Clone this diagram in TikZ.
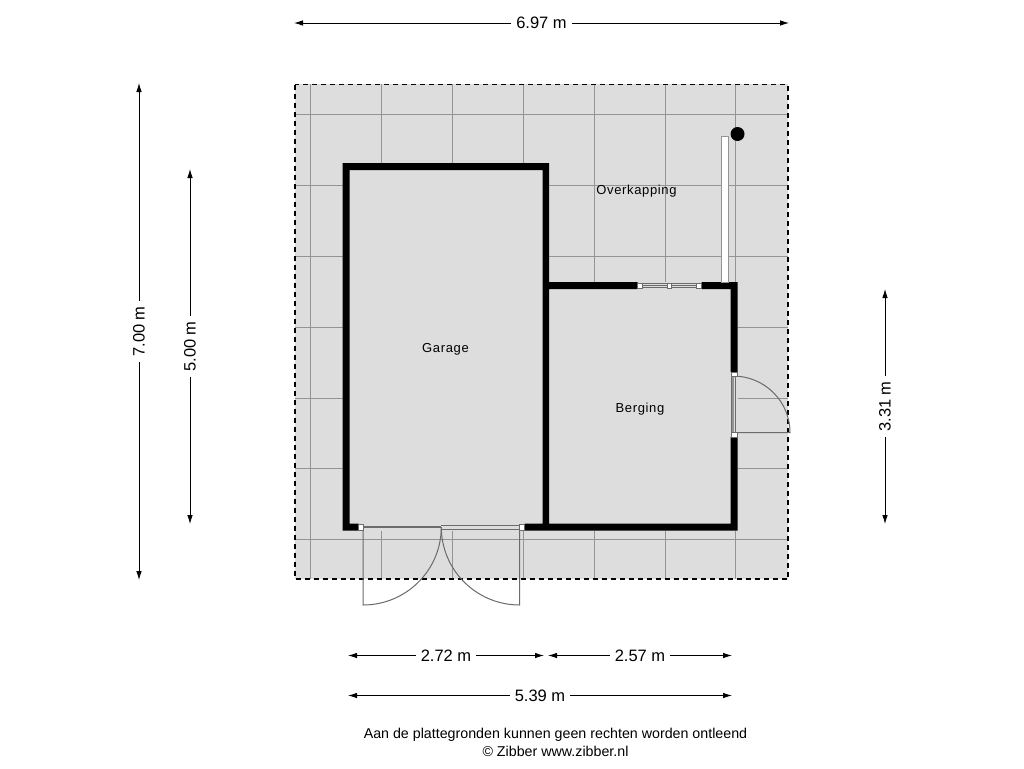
\documentclass[tikz,border=0pt]{standalone}
\usepackage{xcolor}
\usepackage{fontspec}
\setmainfont{Liberation Sans}
\newfontfamily\roomfont[LetterSpace=5]{Liberation Sans}
\usetikzlibrary{arrows.meta}
\definecolor{floorgrey}{gray}{0.865}
\definecolor{tilegrey}{gray}{0.58}
\definecolor{doorgrey}{gray}{0.42}
\tikzset{>={Latex[length=9pt,width=5.5pt]}}
\tikzstyle{dim} = [->, draw=black, line width=0.8pt]
\tikzstyle{dimlabel} = [draw=none, font=\fontsize{16.5}{18}\selectfont, inner sep=5pt]
\tikzstyle{room} = [draw=none, font=\fontsize{13}{15}\selectfont\roomfont, inner sep=0]
\tikzstyle{wall} = [draw=none, fill=black]
\tikzstyle{tile} = [draw=tilegrey, line width=1pt]
\tikzstyle{door} = [draw=doorgrey, line width=1pt]
\tikzstyle{jamb} = [draw=doorgrey, fill=white, line width=0.5pt]

\begin{document}
\begin{tikzpicture}[x=1pt, y=-1pt]
\useasboundingbox (0,0) rectangle (1024,768);
\fill [white] (0,0) rectangle (1024,768);
% overkapping
\fill [floorgrey] (295,84) rectangle (788,579);
\foreach \tx in {310,381,452,523,594,665,735}
  \draw [tile] (\tx,84) -- (\tx,579);
\foreach \ty in {114,185,256,327,398,468,539}
  \draw [tile] (295,\ty) -- (788,\ty);
\draw [black, line width=1.5pt, dash pattern=on 5pt off 4pt] (295,84.5) rectangle (788,579);
% rooms
\fill [floorgrey] (342.5,163) rectangle (549,530.5);
\fill [floorgrey] (549,282) rectangle (737.5,530.5);
% walls
\fill [wall] (342.5,163) -- (549,163) -- (549,282) -- (637.5,282) -- (637.5,289) -- (549,289) -- (549,523.5) -- (730.5,523.5)
  -- (730.5,437) -- (737.5,437) -- (737.5,530.5) -- (524.5,530.5) -- (524.5,523.5) -- (542.5,523.5) -- (542.5,170) -- (349.5,170) -- (349.5,523.5)
  -- (358.5,523.5) -- (358.5,530.5) -- (342.5,530.5) -- cycle;
\fill [wall] (701.5,282) -- (737.5,282) -- (737.5,372) -- (730.5,372) -- (730.5,289) -- (701.5,289) -- cycle;
% window
\draw [door, line width=0.7pt, fill=floorgrey] (637.5,283.5) rectangle (701.5,287.5);
\draw [door, line width=0.7pt] (637.5,285.5) -- (701.5,285.5);
\draw [jamb] (637.5,283) rectangle (642.5,288);
\draw [jamb] (667.5,283) rectangle (671,288);
\draw [jamb] (696.5,283) rectangle (701.5,288);
% partition and column
\draw [draw=tilegrey, fill=white, line width=1pt] (721,136) rectangle (728,282);
\fill [black] (737.5,134) circle (7);
% door berging
\fill [floorgrey] (730.5,372) rectangle (737.5,437);
\draw [door] (731.5,376) -- (731.5,432.5);
\draw [door] (735,376) -- (735,432.5);
\draw [draw=tilegrey, line width=1.6pt] (733.2,376) -- (733.2,432.5);
\draw [door] (733,376) arc (-90:0:57 and 56.5) -- (733,432.5);
\draw [jamb] (731,372) rectangle (737,376.5);
\draw [jamb] (731,432.5) rectangle (737,437);
% doors garage
\fill [floorgrey] (358.5,523.5) rectangle (524.5,530.5);
\draw [door, line width=1.8pt] (363,527) -- (441,527);
\draw [door, line width=0.7pt] (441,525) -- (520,525);
\draw [door, line width=0.7pt] (441,529) -- (520,529);
\draw [door] (363,527) -- (363,605) arc (90:0:78.3 and 78);
\draw [door] (519.7,527) -- (519.7,605) arc (90:180:78.4 and 78);
\draw [jamb] (358.5,524.5) rectangle (363.5,530);
\draw [jamb] (519.5,524.5) rectangle (524.5,530);
% labels
\node [room] (overkapping) at (636.5,191) {Overkapping};
\node [room] (garage) at (445.5,349) {Garage};
\node [room] (berging) at (640,409) {Berging};
% dimensions
\node [dimlabel] (w697) at (541.5,23) {6.97 m};
\coordinate (w697a) at (294,23);
\coordinate (w697b) at (789,23);
\draw [dim] (w697) to (w697a);
\draw [dim] (w697) to (w697b);
\node [dimlabel, rotate=90] (h700) at (139,331.5) {7.00 m};
\coordinate (h700a) at (139,83);
\coordinate (h700b) at (139,580);
\draw [dim] (h700) to (h700a);
\draw [dim] (h700) to (h700b);
\node [dimlabel, rotate=90] (h500) at (190,346.5) {5.00 m};
\coordinate (h500a) at (190,169);
\coordinate (h500b) at (190,524);
\draw [dim] (h500) to (h500a);
\draw [dim] (h500) to (h500b);
\node [dimlabel, rotate=90] (h331) at (885,406.5) {3.31 m};
\coordinate (h331a) at (885,289);
\coordinate (h331b) at (885,524);
\draw [dim] (h331) to (h331a);
\draw [dim] (h331) to (h331b);
\node [dimlabel] (w272) at (446,655.5) {2.72 m};
\coordinate (w272a) at (348,655.5);
\coordinate (w272b) at (544,655.5);
\draw [dim] (w272) to (w272a);
\draw [dim] (w272) to (w272b);
\node [dimlabel] (w257) at (640,655.5) {2.57 m};
\coordinate (w257a) at (548,655.5);
\coordinate (w257b) at (732,655.5);
\draw [dim] (w257) to (w257a);
\draw [dim] (w257) to (w257b);
\node [dimlabel] (w539) at (540,695.5) {5.39 m};
\coordinate (w539a) at (348,695.5);
\coordinate (w539b) at (732,695.5);
\draw [dim] (w539) to (w539a);
\draw [dim] (w539) to (w539b);
% footer
\node [draw=none, inner sep=0, font=\fontsize{14.25}{16}\selectfont] (disclaimer) at (555.5,735) {Aan de plattegronden kunnen geen rechten worden ontleend};
\node [draw=none, inner sep=0, font=\fontsize{14.25}{16}\selectfont] (credit) at (555.5,751) {© Zibber www.zibber.nl};
\end{tikzpicture}
\end{document}
